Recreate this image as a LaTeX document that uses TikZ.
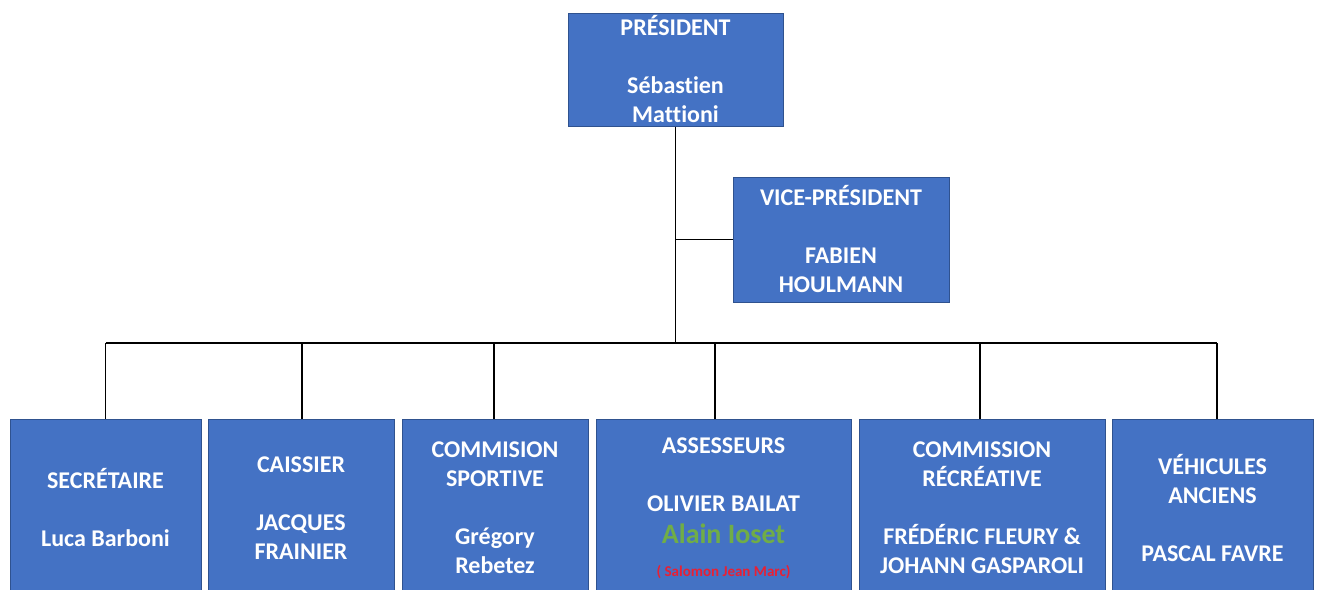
\documentclass[tikz,border=0pt]{standalone}
\usepackage{fontspec}
\setmainfont{Carlito}[Ligatures=NoCommon]
\usetikzlibrary{positioning}
\definecolor{box blue}{HTML}{4472C4}
\definecolor{box edge}{HTML}{2F528F}
\definecolor{alain green}{HTML}{70AD47}
\definecolor{salomon red}{RGB}{232,32,52}
\def\bigname{\fontsize{28}{29}\selectfont\color{alain green}}
\def\smallname{\fontsize{15}{16}\selectfont\color{salomon red}}
\tikzset{box/.style={rectangle, fill=box blue, draw=box edge, line width=1pt,
    text=white, align=center, inner sep=0pt,
    font=\fontsize{24}{29}\selectfont\bfseries},
  lowbox/.style={box, minimum height=178pt},
  link/.style={draw=black, line width=1.2pt}}

\begin{document}
\begin{tikzpicture}[x=1pt, y=-1pt]
    \useasboundingbox[fill=white] (0,0) rectangle (1319,589);
    \clip (0,0) rectangle (1319,589);
    % top of the chart
    \node[box, minimum width=215pt, minimum height=113pt] (pres) at (675.5,69.5)
      {PRÉSIDENT\\[29pt]Sébastien\\Mattioni};
    \node[box, minimum width=216pt, minimum height=125pt] (vice) at (841,239.5)
      {VICE-PRÉSIDENT\\[29pt]FABIEN\\HOULMANN};
    % committee row
    \node[lowbox, minimum width=191pt] (secr) at (105.5,508)
      {SECRÉTAIRE\\[29pt]Luca Barboni};
    \node[lowbox, minimum width=186pt] (caiss) at (301,508)
      {CAISSIER\\[29pt]JACQUES\\FRAINIER};
    \node[lowbox, minimum width=186pt] (sport) at (495,508)
      {COMMISION\\SPORTIVE\\[29pt]Grégory\\Rebetez};
    \node[lowbox, minimum width=255pt] (assess) at (723.5,508)
      {ASSESSEURS\\[29pt]OLIVIER BAILAT\\[3pt]{\bigname Alain Ioset}\\[4pt]{\smallname ( Salomon Jean Marc)}};
    \node[lowbox, minimum width=246pt] (recre) at (982,508)
      {COMMISSION\\RÉCRÉATIVE\\[29pt]FRÉDÉRIC FLEURY \&\\JOHANN GASPAROLI};
    \node[lowbox, minimum width=201pt] (vehic) at (1212.5,508)
      {VÉHICULES\\ANCIENS\\[29pt]PASCAL FAVRE};
    % connectors
    \coordinate (bus) at (pres.south |- 0,343);
    \draw[link] (pres.south) -- (bus);
    \draw[link] (pres.south |- vice.west) -- (vice.west);
    \draw[link] (secr.north |- bus) -- ([xshift=4.5pt]vehic.north |- bus);
    \foreach \n/\dx in {secr/0, caiss/1, sport/-1, assess/-8.5, recre/-2, vehic/4.5}
      \draw[link] ([xshift=\dx pt]\n.north) -- ([xshift=\dx pt]\n.north |- bus);
\end{tikzpicture}
\end{document}
